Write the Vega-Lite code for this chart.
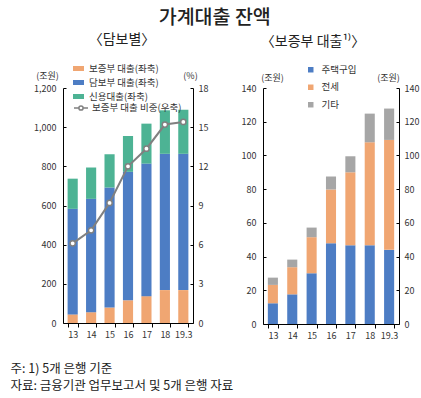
{
  "$schema": "https://vega.github.io/schema/vega-lite/v6.json",
  "padding": {"left": 10, "top": 7, "right": 5, "bottom": 5},
  "background": "white",
  "config": {
    "font": "Noto Sans CJK KR",
    "view": {"stroke": null},
    "axis": {"labelFont": "Noto Sans CJK KR", "labelFontSize": 9, "labelColor": "#333", "domainColor": "#000", "tickColor": "#000", "grid": false, "titleFont": "Noto Sans CJK KR", "titleFontSize": 9, "titleFontWeight": "normal", "titleColor": "#333"},
    "legend": {"labelFont": "Noto Sans CJK KR", "labelFontSize": 9.5, "labelColor": "#333"},
    "title": {"font": "Noto Sans CJK KR"}
  },
  "title": {"text": "가계대출 잔액", "fontSize": 19.5, "fontWeight": 500, "color": "#222", "anchor": "middle", "offset": 5},
  "vconcat": [
    {
      "title": {"text": ["주: 1) 5개 은행 기준", "자료: 금융기관 업무보고서 및 5개 은행 자료"], "orient": "bottom", "anchor": "start", "fontSize": 12.5, "fontWeight": "normal", "color": "#222", "lineHeight": 17, "offset": 23, "dx": -23},
      "spacing": 33,
      "resolve": {"scale": {"color": "independent", "stroke": "independent"}, "legend": {"color": "independent", "stroke": "independent"}},
      "hconcat": [
        {
          "width": 130,
          "height": 235,
          "title": {"text": "〈담보별〉", "fontSize": 14, "fontWeight": "normal", "color": "#222", "offset": 16, "dx": -6},
          "layer": [
            {
              "data": {"values": [
                {"연도": "13", "구분": "보증부 대출(좌축)", "값": 44, "k": 1},
                {"연도": "13", "구분": "담보부 대출(좌축)", "값": 539, "k": 2},
                {"연도": "13", "구분": "신용대출(좌축)", "값": 154, "k": 3},
                {"연도": "14", "구분": "보증부 대출(좌축)", "값": 55, "k": 1},
                {"연도": "14", "구분": "담보부 대출(좌축)", "값": 579, "k": 2},
                {"연도": "14", "구분": "신용대출(좌축)", "값": 160, "k": 3},
                {"연도": "15", "구분": "보증부 대출(좌축)", "값": 79, "k": 1},
                {"연도": "15", "구분": "담보부 대출(좌축)", "값": 613, "k": 2},
                {"연도": "15", "구분": "신용대출(좌축)", "값": 170, "k": 3},
                {"연도": "16", "구분": "보증부 대출(좌축)", "값": 116, "k": 1},
                {"연도": "16", "구분": "담보부 대출(좌축)", "값": 656, "k": 2},
                {"연도": "16", "구분": "신용대출(좌축)", "값": 183, "k": 3},
                {"연도": "17", "구분": "보증부 대출(좌축)", "값": 137, "k": 1},
                {"연도": "17", "구분": "담보부 대출(좌축)", "값": 677, "k": 2},
                {"연도": "17", "구분": "신용대출(좌축)", "값": 204, "k": 3},
                {"연도": "18", "구분": "보증부 대출(좌축)", "값": 168, "k": 1},
                {"연도": "18", "구분": "담보부 대출(좌축)", "값": 696, "k": 2},
                {"연도": "18", "구분": "신용대출(좌축)", "값": 222, "k": 3},
                {"연도": "19.3", "구분": "보증부 대출(좌축)", "값": 168, "k": 1},
                {"연도": "19.3", "구분": "담보부 대출(좌축)", "값": 696, "k": 2},
                {"연도": "19.3", "구분": "신용대출(좌축)", "값": 225, "k": 3}
              ]},
              "mark": {"type": "bar"},
              "encoding": {
                "x": {"field": "연도", "type": "ordinal", "sort": null, "title": null,
                  "scale": {"paddingInner": 0.45, "paddingOuter": 0.25},
                  "axis": {"labelAngle": 0, "tickBand": "extent", "tickSize": 4, "labelPadding": 3}},
                "y": {"field": "값", "type": "quantitative", "stack": "zero",
                  "scale": {"domain": [0, 1200], "nice": false},
                  "axis": {"values": [0, 200, 400, 600, 800, 1000, 1200], "format": ",.0f", "title": "(조원)", "titleAngle": 0, "titleAlign": "center", "titleBaseline": "bottom", "titleX": -16, "titleY": -8, "tickSize": -3, "labelPadding": 10}},
                "color": {"field": "구분", "type": "nominal",
                  "scale": {"domain": ["보증부 대출(좌축)", "담보부 대출(좌축)", "신용대출(좌축)"], "range": ["#F0A672", "#4D7DC4", "#4DB394"]},
                  "legend": {"title": null, "orient": "none", "legendX": 10, "legendY": -25, "symbolType": "M-1,-0.45H1V0.45H-1Z", "symbolSize": 121, "symbolStrokeWidth": 0, "labelOffset": 5, "rowPadding": 4}},
                "order": {"field": "k", "type": "quantitative"}
              }
            },
            {
              "data": {"values": [
                {"연도": "13", "비중": 6.1},
                {"연도": "14", "비중": 7.1},
                {"연도": "15", "비중": 9.2},
                {"연도": "16", "비중": 12.0},
                {"연도": "17", "비중": 13.35},
                {"연도": "18", "비중": 15.2},
                {"연도": "19.3", "비중": 15.4}
              ]},
              "mark": {"type": "line", "strokeWidth": 2, "point": {"filled": true, "fill": "white", "size": 28, "strokeWidth": 1.5}},
              "encoding": {
                "x": {"field": "연도", "type": "ordinal", "sort": null},
                "y": {"field": "비중", "type": "quantitative",
                  "scale": {"domain": [0, 18], "nice": false},
                  "axis": {"orient": "right", "values": [0, 3, 6, 9, 12, 15, 18], "title": "(%)", "titleAngle": 0, "titleAlign": "center", "titleBaseline": "bottom", "titleX": -3, "titleY": -8, "tickSize": -3, "labelPadding": 8}},
                "stroke": {"datum": "보증부 대출 비중(우축)", "type": "nominal",
                  "scale": {"range": ["#808080"]},
                  "legend": {"title": null, "orient": "none", "legendX": 10, "legendY": 12, "symbolType": "M-1,0H-0.3M0.3,0H1M0.3,0A0.3,0.3 0 1 1 -0.3,0A0.3,0.3 0 1 1 0.3,0", "symbolSize": 196, "symbolStrokeWidth": 1.5, "symbolFillColor": "white", "labelOffset": 3}}
              }
            }
          ],
          "resolve": {"scale": {"y": "independent", "color": "independent"}}
        },
        {
          "width": 136,
          "height": 236,
          "title": {"text": "〈보증부 대출¹⁾〉", "fontSize": 14, "fontWeight": "normal", "color": "#222", "offset": 16, "dx": -18},
          "data": {"values": [
            {"연도": "13", "구분": "주택구입", "값": 12.3, "k": 1},
            {"연도": "13", "구분": "전세", "값": 10.9, "k": 2},
            {"연도": "13", "구분": "기타", "값": 4.3, "k": 3},
            {"연도": "14", "구분": "주택구입", "값": 17.6, "k": 1},
            {"연도": "14", "구분": "전세", "값": 16.1, "k": 2},
            {"연도": "14", "구분": "기타", "값": 4.5, "k": 3},
            {"연도": "15", "구분": "주택구입", "값": 30.1, "k": 1},
            {"연도": "15", "구분": "전세", "값": 21.4, "k": 2},
            {"연도": "15", "구분": "기타", "값": 5.7, "k": 3},
            {"연도": "16", "구분": "주택구입", "값": 47.9, "k": 1},
            {"연도": "16", "구분": "전세", "값": 31.9, "k": 2},
            {"연도": "16", "구분": "기타", "값": 7.7, "k": 3},
            {"연도": "17", "구분": "주택구입", "값": 46.7, "k": 1},
            {"연도": "17", "구분": "전세", "값": 43.3, "k": 2},
            {"연도": "17", "구분": "기타", "값": 9.5, "k": 3},
            {"연도": "18", "구분": "주택구입", "값": 46.7, "k": 1},
            {"연도": "18", "구분": "전세", "값": 61.1, "k": 2},
            {"연도": "18", "구분": "기타", "값": 17.0, "k": 3},
            {"연도": "19.3", "구분": "주택구입", "값": 44.0, "k": 1},
            {"연도": "19.3", "구분": "전세", "값": 65.2, "k": 2},
            {"연도": "19.3", "구분": "기타", "값": 18.6, "k": 3}
          ]},
          "layer": [
            {
              "mark": {"type": "bar"},
              "encoding": {
                "x": {"field": "연도", "type": "ordinal", "sort": null, "title": null,
                  "scale": {"paddingInner": 0.48, "paddingOuter": 0.25},
                  "axis": {"labelAngle": 0, "tickBand": "extent", "tickSize": 4, "labelPadding": 3}},
                "y": {"field": "값", "type": "quantitative", "stack": "zero",
                  "scale": {"domain": [0, 140], "nice": false},
                  "axis": {"values": [0, 20, 40, 60, 80, 100, 120, 140], "title": "(조원)", "titleAngle": 0, "titleAlign": "center", "titleBaseline": "bottom", "titleX": 9, "titleY": -6, "tickSize": -3, "labelPadding": 10}},
                "color": {"field": "구분", "type": "nominal",
                  "scale": {"domain": ["주택구입", "전세", "기타"], "range": ["#4D7DC4", "#F0A672", "#A6A6A6"]},
                  "legend": {"title": null, "orient": "none", "legendX": 43, "legendY": -23, "symbolType": "square", "symbolSize": 30, "labelOffset": 6, "rowPadding": 6.5}},
                "order": {"field": "k", "type": "quantitative"}
              }
            },
            {
              "mark": {"type": "bar", "opacity": 0},
              "encoding": {
                "x": {"field": "연도", "type": "ordinal", "sort": null},
                "y": {"field": "값", "type": "quantitative", "stack": "zero",
                  "scale": {"domain": [0, 140], "nice": false},
                  "axis": {"orient": "right", "values": [0, 20, 40, 60, 80, 100, 120, 140], "title": "(조원)", "titleAngle": 0, "titleAlign": "center", "titleBaseline": "bottom", "titleX": -11, "titleY": -6, "tickSize": -3, "labelPadding": 8}}
              }
            }
          ],
          "resolve": {"scale": {"y": "independent"}}
        }
      ]
    }
  ]
}
